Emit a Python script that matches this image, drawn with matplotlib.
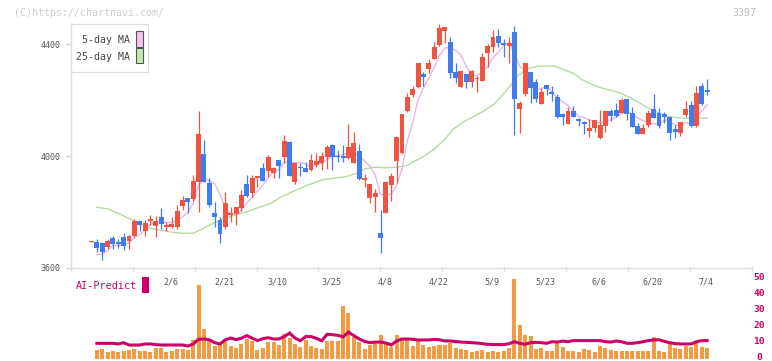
import numpy as np
import matplotlib
matplotlib.use("Agg")
import matplotlib.pyplot as plt
from matplotlib.patches import Rectangle
from matplotlib.transforms import blended_transform_factory

# ---------------- data ----------------
open_ = [3694, 3692, 3688, 3676, 3707, 3692, 3712, 3698, 3715, 3769,
         3733, 3769, 3751, 3782, 3749, 3746, 3748, 3823, 3850, 3846,
         3908, 4007, 3902, 3796, 3771, 3748, 3793, 3792, 3815, 3900,
         3869, 3923, 3957, 3948, 3938, 3986, 3998, 4050, 3906, 3960,
         3956, 3950, 3968, 3974, 3998, 4039, 4000, 4000, 3992, 3976,
         4018, 3917, 3851, 3855, 3726, 3798, 3898, 3983, 4010, 4162,
         4217, 4248, 4293, 4311, 4346, 4396, 4448, 4406, 4301, 4248,
         4293, 4265, 4274, 4269, 4369, 4390, 4429, 4400, 4393, 4442,
         4168, 4223, 4300, 4264, 4187, 4254, 4226, 4211, 4150, 4114,
         4161, 4129, 4120, 4090, 4100, 4065, 4108, 4161, 4164, 4154,
         4204, 4155, 4107, 4080, 4112, 4167, 4154, 4150, 4138, 4096,
         4083, 4146, 4182, 4107, 4250, 4232]
high = [3697, 3704, 3690, 3704, 3715, 3704, 3725, 3718, 3776, 3769,
        3771, 3789, 3786, 3814, 3765, 3783, 3825, 3857, 3850, 3932,
        4161, 4057, 3920, 3837, 3781, 3873, 3817, 3818, 3879, 3932,
        3932, 3929, 3975, 4005, 3962, 3986, 4075, 4054, 3974, 3976,
        3978, 4007, 4012, 4015, 4039, 4043, 4021, 4039, 4114, 4085,
        4043, 3936, 3901, 3882, 3807, 3911, 3938, 4069, 4150, 4226,
        4251, 4333, 4301, 4345, 4407, 4471, 4462, 4426, 4331, 4304,
        4293, 4307, 4286, 4367, 4400, 4450, 4452, 4417, 4426, 4464,
        4196, 4332, 4300, 4274, 4242, 4254, 4250, 4221, 4152, 4176,
        4178, 4137, 4125, 4132, 4129, 4164, 4163, 4168, 4189, 4208,
        4204, 4176, 4118, 4114, 4163, 4222, 4171, 4158, 4138, 4112,
        4121, 4196, 4196, 4250, 4261, 4275]
low = [3693, 3658, 3630, 3667, 3668, 3673, 3664, 3668, 3712, 3733,
       3715, 3755, 3710, 3740, 3733, 3742, 3738, 3807, 3798, 3840,
       3801, 3908, 3817, 3748, 3690, 3738, 3765, 3755, 3803, 3855,
       3852, 3888, 3912, 3924, 3920, 3921, 3976, 3930, 3900, 3929,
       3944, 3946, 3962, 3950, 3954, 3950, 3980, 3977, 3988, 3974,
       3914, 3888, 3831, 3801, 3652, 3795, 3840, 3902, 4008, 4158,
       4210, 4244, 4249, 4295, 4345, 4393, 4405, 4277, 4262, 4248,
       4244, 4248, 4230, 4269, 4319, 4373, 4388, 4355, 4333, 4075,
       4083, 4214, 4190, 4192, 4187, 4219, 4198, 4136, 4111, 4114,
       4140, 4108, 4078, 4069, 4087, 4060, 4087, 4126, 4141, 4152,
       4129, 4105, 4079, 4079, 4105, 4137, 4101, 4117, 4057, 4065,
       4071, 4140, 4102, 4102, 4181, 4218]
close = [3696, 3673, 3658, 3696, 3687, 3686, 3677, 3715, 3769, 3755,
         3761, 3775, 3768, 3758, 3751, 3757, 3805, 3843, 3837, 3912,
         4079, 3908, 3825, 3783, 3721, 3831, 3795, 3818, 3861, 3857,
         3921, 3925, 3912, 3996, 3957, 3964, 4054, 3930, 3974, 3957,
         3944, 3986, 3982, 4000, 4033, 3998, 3997, 3992, 4033, 4048,
         3918, 3919, 3901, 3868, 3708, 3908, 3930, 4069, 4150, 4212,
         4239, 4333, 4283, 4331, 4390, 4457, 4462, 4298, 4277, 4304,
         4265, 4304, 4280, 4355, 4393, 4424, 4405, 4398, 4405, 4204,
         4190, 4332, 4244, 4204, 4229, 4239, 4223, 4139, 4140, 4161,
         4140, 4127, 4118, 4100, 4129, 4111, 4161, 4144, 4144, 4200,
         4151, 4105, 4080, 4100, 4154, 4137, 4107, 4140, 4083, 4087,
         4121, 4168, 4107, 4226, 4185, 4230]

# 5-day moving average (from candle 1 on)
ma5 = [3648, 3650, 3662, 3682, 3680, 3681, 3692, 3707, 3720, 3735,
       3755, 3766, 3763, 3763, 3762, 3768, 3783, 3799, 3831, 3895,
       3916, 3912, 3901, 3863, 3814, 3791, 3790, 3805, 3832, 3850,
       3876, 3895, 3922, 3942, 3951, 3977, 3980, 3976, 3976, 3972,
       3958, 3969, 3974, 3989, 4000, 4002, 4004, 4011, 4014, 3998,
       3982, 3964, 3931, 3863, 3861, 3863, 3897, 3953, 4054, 4120,
       4201, 4243, 4280, 4315, 4359, 4385, 4388, 4377, 4360, 4321,
       4290, 4286, 4302, 4319, 4351, 4371, 4395, 4405, 4367, 4320,
       4306, 4275, 4235, 4240, 4250, 4228, 4207, 4194, 4180, 4161,
       4141, 4137, 4129, 4123, 4117, 4124, 4129, 4138, 4152, 4160,
       4149, 4136, 4127, 4118, 4115, 4116, 4128, 4124, 4111, 4108,
       4120, 4113, 4142, 4161, 4183]

# 25-day moving average, read at these candle positions
ma25_pos = [1, 3, 5, 7, 9, 11, 13, 15, 17, 19, 20.5, 22.5, 25, 27, 29, 31,
            33.5, 35, 37, 39, 41, 43, 45, 47.5, 49.5, 51, 53, 55, 57, 59,
            60, 62, 64, 66, 67.5, 69.5, 71.5, 73, 75, 76.5, 78, 79.5, 81.5,
            83.5, 86.5, 88, 90, 91.7, 93.6, 95.4, 98, 100, 102, 103.5,
            105.5, 107.3, 109, 111, 115]
ma25_val = [3817, 3811, 3795, 3777, 3758, 3742, 3735, 3728, 3724, 3724,
            3738, 3758, 3779, 3790, 3801, 3815, 3831, 3849, 3868, 3885,
            3900, 3914, 3920, 3926, 3938, 3954, 3960, 3958, 3960, 3966,
            3978, 3998, 4024, 4060, 4095, 4122, 4142, 4158, 4182, 4212,
            4245, 4285, 4312, 4321, 4321, 4310, 4295, 4272, 4254, 4242,
            4230, 4214, 4194, 4176, 4158, 4143, 4137, 4135, 4135]

# lower panel (from candle 1 on)
volume = [5.6, 6.25, 4.6, 5.2, 4.6, 5.2, 5.6, 6.25, 5.2, 5.2,
          4.6, 6.9, 6.9, 4.6, 5.2, 6.25, 6.25, 5.6, 11.9, 46.25,
          18.75, 11.9, 8.1, 10.2, 12.3, 8.1, 7.1, 9.4, 12.5, 11.2,
          5.8, 6.9, 10.8, 10.8, 8.75, 15.6, 13.1, 9.4, 7.3, 11.9,
          8.1, 6.9, 6.25, 11.25, 11.25, 11.25, 33.3, 29.0, 13.5, 10.8,
          6.25, 8.75, 10.2, 15.0, 9.8, 7.3, 15.0, 12.5, 12.3, 8.1,
          12.3, 8.75, 7.7, 8.1, 8.75, 8.75, 10.2, 6.9, 6.25, 5.6,
          4.6, 5.2, 5.6, 4.6, 5.2, 4.6, 5.2, 6.8, 50.0, 21.25,
          15.0, 14.4, 6.25, 6.9, 5.2, 5.2, 9.8, 7.3, 5.2, 5.2,
          4.6, 6.25, 5.6, 4.2, 8.1, 6.9, 5.6, 5.2, 5.2, 5.2,
          5.2, 5.2, 5.2, 5.2, 14.0, 5.2, 4.6, 9.8, 6.9, 6.25,
          8.1, 7.3, 9.8, 7.3, 6.9]
ai_predict = [9.8, 9.8, 9.8, 9.8, 9.4, 10.2, 8.75, 8.75, 8.75, 9.4,
              9.4, 9.0, 8.75, 8.75, 8.75, 8.75, 8.75, 8.1, 9.4, 12.3,
              12.5, 12.0, 10.2, 9.4, 12.0, 13.1, 12.1, 13.0, 14.6, 13.0,
              11.5, 12.7, 13.3, 12.5, 12.5, 14.0, 16.2, 13.1, 11.4, 14.0,
              14.0, 12.9, 11.4, 15.4, 15.2, 14.8, 13.8, 16.8, 14.6, 12.5,
              11.0, 10.2, 10.6, 10.6, 10.0, 8.75, 11.3, 12.5, 12.5, 12.3,
              11.9, 11.9, 11.9, 12.3, 12.0, 11.3, 11.3, 10.9, 10.6, 10.4,
              10.2, 10.0, 9.6, 9.2, 9.0, 9.0, 9.0, 9.6, 10.8, 9.8,
              9.2, 10.2, 10.4, 10.2, 9.8, 10.8, 10.6, 11.2, 10.8, 11.5,
              11.5, 11.5, 11.5, 11.5, 11.5, 10.8, 10.6, 11.2, 10.8, 9.8,
              9.8, 10.2, 10.8, 11.5, 11.9, 12.0, 11.0, 10.2, 9.6, 9.4,
              9.4, 9.4, 10.8, 11.5, 11.5]

date_pos = [15, 25, 35, 45, 55, 65, 75, 85, 95, 105, 115]
date_labels = ["2/6", "2/21", "3/10", "3/25", "4/8", "4/22", "5/9",
               "5/23", "6/6", "6/20", "7/4"]
price_ticks = [3600, 4000, 4400]
sub_ticks = [0, 10, 20, 30, 40, 50]

# ---------------- styling ----------------
W, H = 772, 361
MONO = "DejaVu Sans Mono"
RED = "#f05340"
BLUE = "#3f7cef"
PINK = "#e8b4e8"
GREEN = "#b4daa4"
MAG = "#cc0066"
ORANGE = "#f39a43"
GRID = "#dddddd"


def fx(px):
    return px / W


def fy(py):
    return 1 - py / H


fig = plt.figure(figsize=(W / 100, H / 100), dpi=100)
fig.patch.set_facecolor("white")

left_px, right_px = 70.7, 752.0
xmin, xmax = -3.885, 123.37

# ---------------- main price axes ----------------
ax = fig.add_axes([fx(left_px), fy(268), fx(right_px) - fx(left_px), fy(24) - fy(268)])
ax.set_xlim(xmin, xmax)
ax.set_ylim(3600, 3600 + (268 - 24) / 0.28)
for s in ["top", "right"]:
    ax.spines[s].set_visible(False)
for s in ["left", "bottom"]:
    ax.spines[s].set_color(GRID)
    ax.spines[s].set_linewidth(1.0)

n = len(close)
x = np.arange(n)
o = np.array(open_, float)
c = np.array(close, float)
h = np.array(high, float)
l = np.array(low, float)
up = c >= o
colors = np.where(up, RED, BLUE)
bottom = np.minimum(o, c)
height = np.maximum(np.abs(c - o), 6.0)
bottom = np.where(np.abs(c - o) < 6.0, (o + c) / 2 - 3.0, bottom)

ax.vlines(x, l, h, colors=colors, linewidth=0.9, zorder=3)
ax.bar(x, height, bottom=bottom, width=0.92, color=colors, linewidth=0, zorder=4)

ax.plot(np.arange(1, 1 + len(ma5)), ma5, color=PINK, lw=1.0, zorder=2)
ax.plot(ma25_pos, ma25_val, color=GREEN, lw=1.0, zorder=2)

ax.set_yticks(price_ticks)
ax.set_yticklabels([str(v) for v in price_ticks])
ax.tick_params(axis="y", length=3.6, width=0.8, color="#cccccc", pad=3.5,
               labelsize=6, labelcolor="#555555")
for t in ax.get_yticklabels():
    t.set_family(MONO)

xt = [xmin + k * (xmax - xmin) / 11 for k in range(12)]
ax.set_xticks(xt)
ax.set_xticklabels([])
ax.tick_params(axis="x", direction="inout", length=3.6, width=0.9, color=GRID)

# ---------------- lower panel ----------------
ax2 = fig.add_axes([fx(left_px), fy(361), fx(right_px) - fx(left_px), fy(268) - fy(361)])
ax2.set_xlim(xmin, xmax)
ax2.set_ylim(-(361 - 359) / 1.6, (359 - 268) / 1.6)
for s in ax2.spines.values():
    s.set_visible(False)
ax2.patch.set_alpha(0)
xb = np.arange(1, 1 + len(volume))
ax2.bar(xb, volume, width=0.75, color=ORANGE, linewidth=0, zorder=2)
ax2.plot(np.arange(1, 1 + len(ai_predict)), ai_predict, color=MAG, lw=2.2,
         zorder=3, solid_joinstyle="miter")
ax2.set_xticks([])
ax2.set_yticks([])

# right-hand scale labels, drawn as text so that "0" stays inside the figure
rt = blended_transform_factory(fig.transFigure, ax2.transData)
for v in sub_ticks:
    ax2.text(fx(759), v + 1.0, str(v), transform=rt, ha="center", va="center",
             fontsize=6.8, color=MAG, family=MONO, fontweight="bold", clip_on=False)

for p, lab in zip(date_pos, date_labels):
    ax2.text(p - 0.25, (359 - 282.3) / 1.6, lab, ha="center", va="center",
             fontsize=6, color="#555555", family=MONO)

fig.text(fx(75.7), fy(286), "AI-Predict", ha="left", va="center",
         fontsize=7.3, color=MAG, family=MONO)
fig.add_artist(Rectangle((fx(142.3), fy(293)), fx(149) - fx(142.3), (293 - 276.7) / H,
                         transform=fig.transFigure, facecolor=MAG, edgecolor="none"))

# ---------------- legend ----------------
fig.add_artist(Rectangle((fx(70.7), fy(71.7)), fx(148.3) - fx(70.7), (71.7 - 24) / H,
                         transform=fig.transFigure, facecolor="white",
                         edgecolor="#dddddd", linewidth=0.9, zorder=10))
fig.text(fx(129.5), fy(40), "5-day MA", ha="right", va="center", fontsize=7.1,
         color="#444444", family=MONO, zorder=11)
fig.text(fx(129.5), fy(56.5), "25-day MA", ha="right", va="center", fontsize=7.1,
         color="#444444", family=MONO, zorder=11)
fig.add_artist(Rectangle((fx(136.2), fy(46.5)), fx(142.5) - fx(136.2), (46.5 - 31.3) / H,
                         transform=fig.transFigure, facecolor="#f2c4f2",
                         edgecolor="#555555", linewidth=0.8, zorder=11))
fig.add_artist(Rectangle((fx(136.2), fy(63.2)), fx(142.5) - fx(136.2), (63.2 - 48.3) / H,
                         transform=fig.transFigure, facecolor="#c6e6b6",
                         edgecolor="#555555", linewidth=0.8, zorder=11))

# ---------------- header texts ----------------
fig.text(fx(14), fy(12.7), "(C)https://chartnavi.com/", ha="left", va="center",
         fontsize=7.1, color="#cccccc", family=MONO)
fig.text(fx(756.7), fy(12.7), "3397", ha="right", va="center",
         fontsize=7.1, color="#bbbbbb", family=MONO)

fig.savefig("out.png", dpi=100, facecolor="white")
